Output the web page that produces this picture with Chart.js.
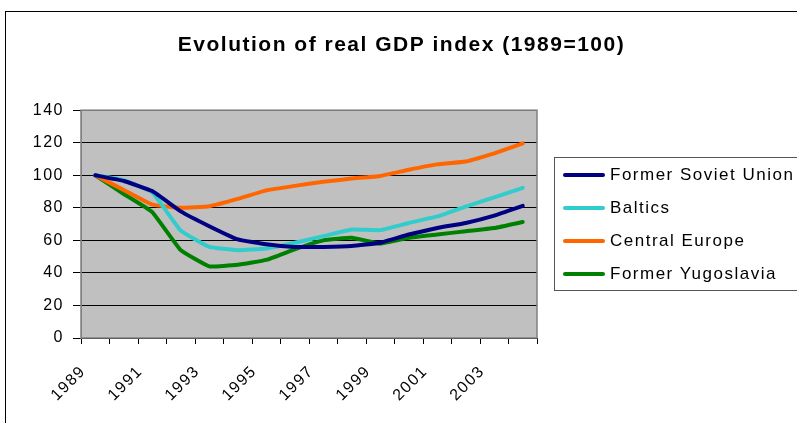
<!DOCTYPE html>
<html>
<head>
<meta charset="utf-8">
<script src="https://cdn.jsdelivr.net/npm/chart.js@4.4.1/dist/chart.umd.min.js"></script>
<style>
    body { margin: 0; background: #fff; }
    #wrap { position: relative; width: 797px; height: 423px; overflow: hidden; }
    #frame { position: absolute; left: 5px; top: 11px; width: 900px; height: 500px;
             border-top: 1px solid #000; border-left: 1px solid #000; }
    #chart { position: absolute; left: 0; top: 0; }
    #legend { position: absolute; left: 554px; top: 157px; width: 300px; height: 132px;
              border: 1px solid #555; font-family: "Liberation Sans", Arial, sans-serif;
              font-size: 17px; letter-spacing: 1.5px; color: #000; }
    .item { position: absolute; left: 0; height: 20px; line-height: 20px; white-space: nowrap; }
    .item span.sw { position: absolute; left: 8px; top: 8px; width: 42px; height: 4px; border-radius: 2px; }
    .item span.tx { position: absolute; left: 55px; top: 0; }
</style>
</head>
<body>
<div id="wrap">
    <div id="frame"></div>
    <canvas id="chart" width="797" height="423"></canvas>
    <div id="legend"></div>
</div>
<script>
// ========================================
// Data
// ========================================

const years = ['1989', '1990', '1991', '1992', '1993', '1994', '1995', '1996',
               '1997', '1998', '1999', '2000', '2001', '2002', '2003', '2004'];

const formerSovietUnion = [100, 96.5, 90.3, 77.8, 68.7, 60.6, 57.6, 56, 56, 56.5, 58.5, 63.6, 67.6, 70.7, 75.2, 81.2];
const baltics           = [100, 97, 89.5, 66, 56, 54, 55, 58.5, 62.6, 66.7, 66.3, 70.7, 74.7, 80.8, 86.4, 92.3];
const centralEurope     = [100, 91, 82, 80, 81, 85.5, 90.7, 93.5, 96, 98, 99.6, 103.4, 106.7, 108.5, 113.5, 119.6];
const formerYugoslavia  = [100, 88.5, 77.4, 54, 44, 45, 48, 54.5, 60, 61.6, 58, 61.6, 63.6, 65.6, 67.6, 71.3];

const seriesNames  = ['Former Soviet Union', 'Baltics', 'Central Europe', 'Former Yugoslavia'];
const seriesColors = ['#000080', '#33CCCC', '#FF6600', '#008000'];

const yTicks = [0, 20, 40, 60, 80, 100, 120, 140];

// ========================================
// Chart
// ========================================

const font = "'Liberation Sans', Arial, sans-serif";

// the old excel text is a bit wider, so add letter spacing
const wideText = {
    id: 'wideText',
    beforeUpdate(chart) { chart.ctx.letterSpacing = '1.5px'; },
    beforeDraw(chart) { chart.ctx.letterSpacing = '1.5px'; }
};

// gray plot area with border
const plotBackground = {
    id: 'plotBackground',
    beforeDraw(chart) {
        const a = chart.chartArea;
        const ctx = chart.ctx;
        ctx.save();
        ctx.fillStyle = '#C0C0C0';
        ctx.fillRect(a.left, a.top, a.right - a.left, a.bottom - a.top);
        ctx.restore();
    },
    afterDraw(chart) {
        const a = chart.chartArea;
        const ctx = chart.ctx;
        ctx.save();
        ctx.strokeStyle = '#808080';
        ctx.lineWidth = 1.5;
        ctx.strokeRect(a.left, a.top, a.right - a.left, a.bottom - a.top);
        ctx.restore();
    }
};

const allData = [formerSovietUnion, baltics, centralEurope, formerYugoslavia];

const chart = new Chart(document.getElementById('chart').getContext('2d'), {
    type: 'line',
    data: {
        labels: years,
        datasets: allData.map((d, i) => ({
            label: seriesNames[i],
            data: d,
            borderColor: seriesColors[i],
            backgroundColor: seriesColors[i],
            borderWidth: 4,
            pointRadius: 0,
            tension: 0.1,
            borderCapStyle: 'round',
            borderJoinStyle: 'round'
        }))
    },
    options: {
        responsive: false,
        animation: false,
        layout: { padding: { left: 6, right: 0, top: 0, bottom: 0 } },
        plugins: {
            legend: { display: false },
            tooltip: { enabled: false },
            title: {
                display: true,
                text: 'Evolution of real GDP index (1989=100)',
                color: '#000',
                font: { family: font, size: 21, weight: 'bold' },
                padding: { top: 33, bottom: 52 }
            }
        },
        scales: {
            x: {
                offset: true,
                afterFit(s) { s.height = 85; },
                grid: { offset: true, drawOnChartArea: false, drawTicks: true, tickLength: 6, color: '#000' },
                border: { color: '#000', width: 1 },
                ticks: {
                    autoSkip: false,
                    maxRotation: 45,
                    minRotation: 45,
                    labelOffset: -12,
                    padding: 18,
                    color: '#000',
                    font: { family: font, size: 16 },
                    callback: function(value, index) {
                        return index % 2 === 0 && index < 15 ? years[index] : '';
                    }
                }
            },
            y: {
                min: 0,
                max: 140,
                afterFit(s) { s.width = 75; },
                afterBuildTicks(s) { s.ticks = yTicks.map(v => ({ value: v })); },
                grid: { color: '#000', tickLength: 8 },
                border: { color: '#808080' },
                ticks: {
                    color: '#000',
                    padding: 9,
                    font: { family: font, size: 16 }
                }
            },
            // empty axis that keeps room for the legend on the right
            legendSpace: {
                type: 'linear',
                position: 'right',
                afterFit(s) { s.width = 260; },
                grid: { display: false },
                border: { display: false },
                ticks: { display: false }
            }
        }
    },
    plugins: [wideText, plotBackground]
});

// ========================================
// Legend (html)
// ========================================

const legend = document.getElementById('legend');
seriesNames.forEach((name, i) => {
    const item = document.createElement('div');
    item.className = 'item';
    item.style.top = (7 + i * 33) + 'px';
    item.innerHTML = '<span class="sw" style="background:' + seriesColors[i] + '"></span>' +
                     '<span class="tx">' + name + '</span>';
    legend.appendChild(item);
});
</script>
</body>
</html>
